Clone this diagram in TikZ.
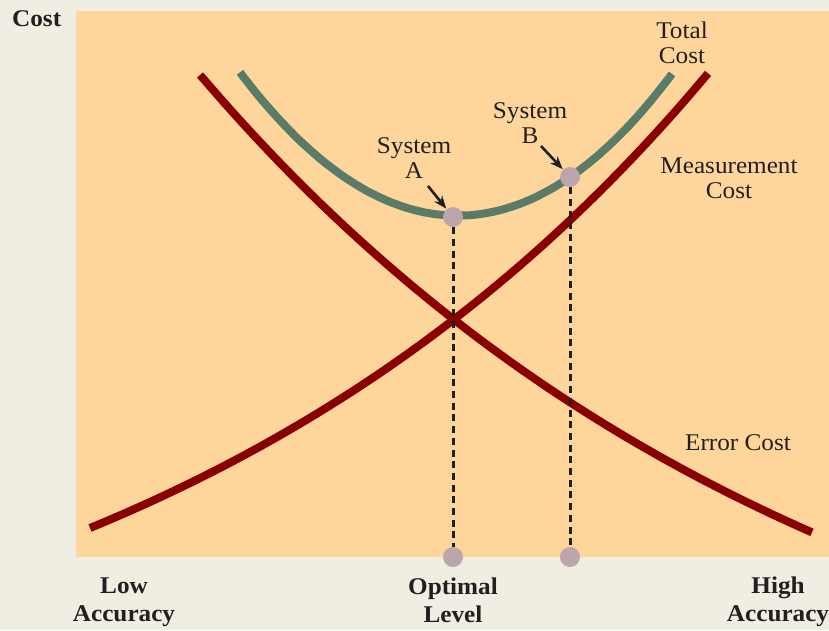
\documentclass[tikz,border=0pt]{standalone}
\usepackage{fontspec}
\setmainfont{Liberation Serif}[FakeStretch=1.05]
\usetikzlibrary{arrows.meta}
\definecolor{outerbg}{HTML}{F0EDE3}
\definecolor{plotbg}{HTML}{FED69B}
\definecolor{costred}{HTML}{8A0000}
\definecolor{totalgreen}{HTML}{5A7B68}
\definecolor{dotcol}{HTML}{BCA6AB}
\definecolor{ink}{HTML}{231F20}
\begin{document}
\begin{tikzpicture}[x=1pt,y=-1pt,
  lbl/.style={font=\fontsize{24}{25}\selectfont, text=ink, align=center, inner sep=0pt, anchor=base},
  axlbl/.style={font=\fontsize{24}{28}\selectfont\bfseries, text=ink, align=center, inner sep=0pt, anchor=base},
  curve/.style={line width=8pt},
  sysdot/.style={circle, fill=dotcol, minimum size=20pt, inner sep=0pt},
  guide/.style={line width=3pt, draw=ink, dash pattern=on 7pt off 4.7pt},
  pointer/.style={line width=2.6pt, draw=ink, -{Stealth[length=13pt,width=10pt]}, shorten >=0.5pt}
]
\fill[outerbg] (0,0) rectangle (829,630);
\fill[plotbg] (76,11) rectangle (829,557);
\useasboundingbox (0,0) rectangle (829,630);
% curves
\draw[curve, costred] plot[domain=200:812, samples=120, smooth] (\x, {807 - 732*exp(-0.0016*(\x-200))});
\draw[curve, costred] plot[domain=90:708, samples=120, smooth] (\x, {767 - 239*exp(0.00172*(\x-90))});
\draw[curve, totalgreen] plot[domain=240:672, samples=120, smooth] (\x, {218 - 2.34*(732*exp(-0.0016*(\x-200)) + 239*exp(0.00172*(\x-90)) - 934)});
% dots
\node[sysdot] (dA) at (453,217) {};
\node[sysdot] (dB) at (570,177) {};
\node[sysdot] (bA) at (453,557) {};
\node[sysdot] (bB) at (570,557) {};
\draw[guide] (dA) -- (bA);
\draw[guide] (dB) -- (bB);
% labels (anchor = baseline of last line)
\node[lbl] (tc) at (682,63) {Total\\Cost};
\node[lbl] (sb) at (530,143) {System\\B};
\node[lbl] (sa) at (414,178) {System\\A};
\node[lbl] (mc) at (729,198) {Measurement\\Cost};
\node[lbl] (ec) at (738,450) {Error Cost};
\node[axlbl, anchor=base west] (yc) at (12,26) {Cost};
\node[axlbl] (lo) at (124,621) {Low\\Accuracy};
\node[axlbl] (op) at (453,622) {Optimal\\Level};
\node[axlbl] (hi) at (778,621) {High\\Accuracy};
% pointers
\coordinate (pa) at (428,186);
\coordinate (pb) at (541,146);
\draw[pointer] (pa) -- (dA);
\draw[pointer] (pb) -- (dB);
\end{tikzpicture}
\end{document}
